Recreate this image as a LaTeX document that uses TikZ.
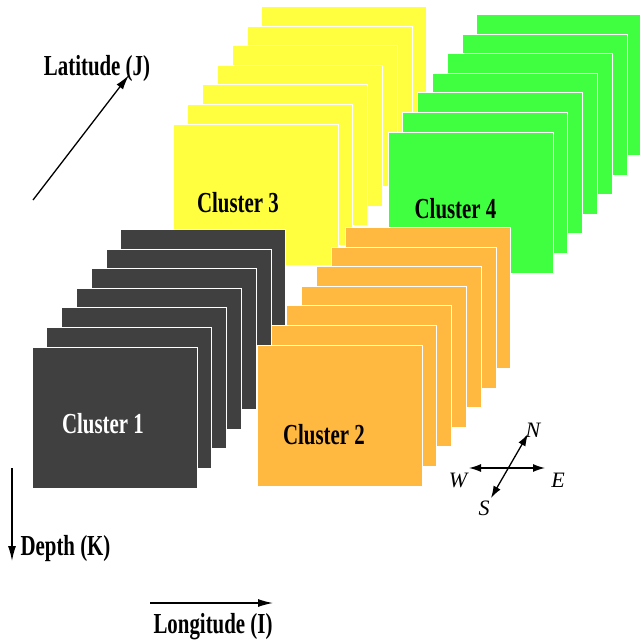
\documentclass[tikz,border=0pt]{standalone}
\usepackage{fontspec}
\setmainfont{Liberation Serif}
\usetikzlibrary{arrows.meta}
\definecolor{cdark}{HTML}{404040}
\definecolor{corange}{HTML}{FFB840}
\definecolor{cyellow}{HTML}{FFFF40}
\definecolor{cgreen}{HTML}{40FF40}
\newcommand{\blbl}[1]{\scalebox{0.72}[1]{\fontsize{29}{34}\selectfont\bfseries #1}}
\newcommand{\clusterstack}[3]{%
  \foreach \i in {6,5,...,0}{%
    \path[sheet,fill=#3] ({#1+\i*14.8},{#2-\i*19.6}) rectangle +(165,141);
  }%
}
\begin{document}
\begin{tikzpicture}[x=1pt,y=-1pt,
  sheet/.style={draw=white,line width=1pt},
  axis/.style={line width=1.3pt,-{Latex[length=15pt,width=8pt]}},
  compass/.style={line width=1.3pt,{Latex[length=12pt,width=8pt]}-{Latex[length=12pt,width=8pt]}},
  axlabel/.style={anchor=base,inner sep=0pt},
  cllabel/.style={anchor=base,inner sep=0pt},
  dirlabel/.style={inner sep=0pt,font=\fontsize{22}{26}\selectfont\itshape}]
\useasboundingbox (0,0) rectangle (640,643);
% clusters (back to front)
\clusterstack{173}{124}{cyellow}
\clusterstack{388}{132}{cgreen}
\clusterstack{32}{347}{cdark}
\clusterstack{257}{345}{corange}
\node[cllabel,text=white] (c1) at (103,433) {\blbl{Cluster 1}};
\node[cllabel] (c2) at (324,444) {\blbl{Cluster 2}};
\node[cllabel] (c3) at (238,212) {\blbl{Cluster 3}};
\node[cllabel] (c4) at (455.5,218) {\blbl{Cluster 4}};
% axes
\coordinate (latA) at (33,200);
\coordinate (latB) at (129,75);
\draw[axis] (latA) -- (latB);
\node[axlabel] (lat) at (97,75) {\blbl{Latitude (J)}};
\coordinate (depA) at (12,468);
\coordinate (depB) at (12,561);
\draw[axis] (depA) -- (depB);
\node[axlabel] (dep) at (65.5,555) {\blbl{Depth (K)}};
\coordinate (lonA) at (150,603);
\coordinate (lonB) at (273,603);
\draw[axis] (lonA) -- (lonB);
\node[axlabel] (lon) at (213,633) {\blbl{Longitude (I)}};
% compass
\coordinate (cw) at (469,468);
\coordinate (ce) at (545,468);
\coordinate (cs) at (491,498);
\coordinate (cn) at (528,434);
\draw[compass] (cw) -- (ce);
\draw[compass] (cs) -- (cn);
\node[dirlabel] (n) at (533,430) {N};
\node[dirlabel] (w) at (458,480) {W};
\node[dirlabel] (e) at (558,480) {E};
\node[dirlabel] (s) at (484,508) {S};
\end{tikzpicture}
\end{document}
